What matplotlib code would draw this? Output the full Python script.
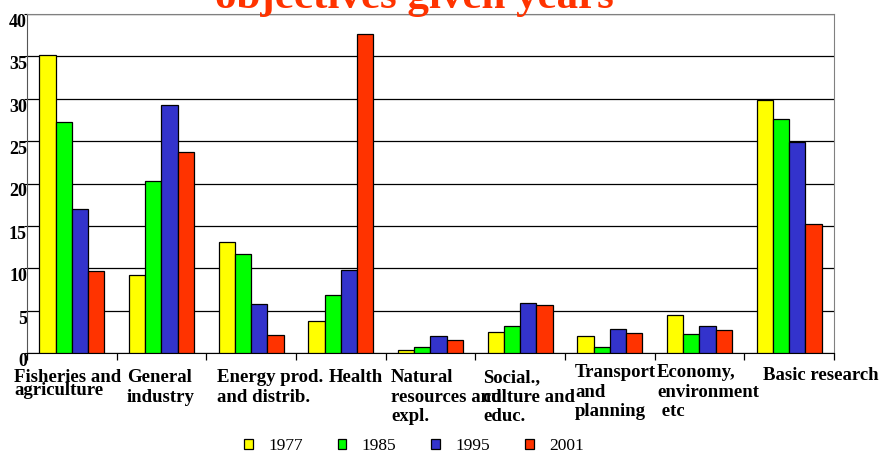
import numpy as np
import matplotlib
matplotlib.use("Agg")
import matplotlib.pyplot as plt

# data
categories = ["Fisheries and agriculture", "General industry", "Energy prod. and distrib.",
              "Health", "Natural resources and expl.", "Social., culture and educ.",
              "Transport and planning", "Economy, environment etc", "Basic research"]
years = ["1977", "1985", "1995", "2001"]
v1977 = [35.2, 9.2, 13.1, 3.8, 0.3, 2.5, 2.05, 4.5, 29.9]
v1985 = [27.2, 20.3, 11.7, 6.8, 0.75, 3.15, 0.75, 2.3, 27.6]
v1995 = [16.95, 29.3, 5.8, 9.8, 2.05, 5.85, 2.8, 3.15, 24.9]
v2001 = [9.7, 23.7, 2.1, 37.6, 1.5, 5.65, 2.35, 2.75, 15.2]
yticks = [0, 5, 10, 15, 20, 25, 30, 35, 40]

colors = ["#FFFF00", "#00FF00", "#3333CC", "#FF3300"]
W, H = 881, 454

plt.rcParams['font.family'] = ['Liberation Serif', 'DejaVu Serif']

fig = plt.figure(figsize=(W / 100, H / 100), dpi=100)
ax = fig.add_axes([27 / W, 1 - 353 / H, (834 - 27) / W, (353 - 14) / H])

x = np.arange(len(categories))
bw = 0.182
for i, (vals, c, yr) in enumerate(zip([v1977, v1985, v1995, v2001], colors, years)):
    ax.bar(x + (i - 1.5) * bw, vals, bw, color=c, edgecolor="black", linewidth=0.9,
           label=yr, zorder=3)

ax.set_xlim(-0.5, len(categories) - 0.5)
ax.set_ylim(0, 40)
ax.set_yticks(yticks)
ax.set_yticklabels([str(t) for t in yticks], fontweight="bold", fontsize=13)
for lab in ax.get_yticklabels():
    lab.set_verticalalignment("top")
ax.yaxis.grid(True, color="black", linewidth=0.9, zorder=0)
ax.tick_params(axis="y", length=2, pad=-2, width=0.8)

# category ticks on the boundaries, labels drawn separately
ax.set_xticks(np.arange(len(categories) + 1) - 0.5)
ax.set_xticklabels([])
ax.tick_params(axis="x", length=5, width=0.9, direction="out")

for s in ["top", "right"]:
    ax.spines[s].set_color("#808080")
ax.spines["left"].set_color("#555555")
ax.spines["bottom"].set_color("black")

# x category labels (placed like the original: left px, first baseline px, line spacing)
xlabels = [("Fisheries and\nagriculture", 14, 382, 0.66),
           ("General\nindustry", 127, 382, 1.2),
           ("Energy prod.\nand distrib.", 217, 382, 1.2),
           ("Health", 329, 382, 1.2),
           ("Natural\nresources and\nexpl.", 391, 382, 1.2),
           ("Social.,\nculture and\neduc.", 483, 382, 1.2),
           ("Transport\nand\nplanning", 575, 377, 1.2),
           ("Economy,\nenvironment\n etc", 657, 377, 1.2),
           ("Basic research", 763, 380, 1.2)]
for txt, px, py, ls in xlabels:
    fig.text(px / W, 1 - (py - 13) / H, txt, ha="left", va="top", fontsize=13.5,
             fontweight="bold", linespacing=ls)

# title, cut off at the top in the original
fig.text(414 / W, 1 - 8 / H, "objectives given years", ha="center", va="baseline",
         fontsize=31, fontweight="bold", color="#FF3300")

leg = fig.legend(loc="center", bbox_to_anchor=(414 / W, 1 - 446 / H), ncol=4,
                 frameon=False, fontsize=12.5, handlelength=0.5, handleheight=0.5,
                 handletextpad=0.9, columnspacing=2.0)

fig.savefig("out.png", dpi=100)
